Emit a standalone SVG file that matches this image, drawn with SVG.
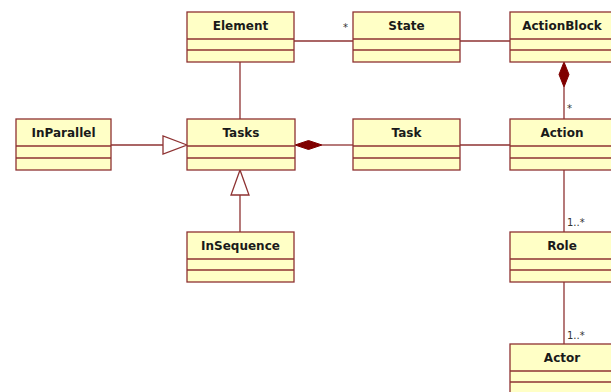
<svg xmlns="http://www.w3.org/2000/svg" width="611" height="392" viewBox="0 0 611 392">
  <defs>
    <style>
      .box { fill: #FFFFC6; stroke: #8E3232; stroke-width: 1.3; }
      .sep { stroke: #8E3232; stroke-width: 1.3; }
      .title { font-family: "DejaVu Sans", Verdana, sans-serif; font-size: 12px; font-weight: bold; fill: #1a1a1a; text-anchor: middle; }
      .edge { fill: none; stroke: #8E3232; stroke-width: 1.3; }
      .mult { font-family: "DejaVu Sans", Verdana, sans-serif; font-size: 10px; fill: #333333; }
      .gen { fill: #ffffff; stroke: #8E3232; stroke-width: 1.3; }
      .comp { fill: #800000; stroke: #800000; stroke-width: 1; }
    </style>
  </defs>

  <rect width="611" height="392" fill="#ffffff"/>

  <!-- associations, generalizations and compositions -->
  <g id="connectors">
    <!-- Element - State -->
    <line class="edge" x1="294" y1="41" x2="353" y2="41"/>
    <text class="mult" x="343" y="31">*</text>
    <!-- State - ActionBlock -->
    <line class="edge" x1="460" y1="41" x2="510" y2="41"/>
    <!-- Element - Tasks -->
    <line class="edge" x1="240" y1="62" x2="240" y2="119"/>
    <!-- InParallel generalizes to Tasks -->
    <line class="edge" x1="111" y1="145" x2="163" y2="145"/>
    <polygon class="gen" points="187,145 163,136 163,154"/>
    <!-- InSequence generalizes to Tasks -->
    <line class="edge" x1="240" y1="195" x2="240" y2="232"/>
    <polygon class="gen" points="240,170 231,195 249,195"/>
    <!-- Tasks composed of Task -->
    <line class="edge" x1="322" y1="145" x2="353" y2="145"/>
    <polygon class="comp" points="295,145 308.5,140.5 322,145 308.5,149.5"/>
    <!-- Task - Action -->
    <line class="edge" x1="460" y1="145" x2="510" y2="145"/>
    <!-- ActionBlock composed of Action -->
    <line class="edge" x1="564" y1="87" x2="564" y2="119"/>
    <polygon class="comp" points="564,62 569,74.5 564,87 559,74.5"/>
    <text class="mult" x="567" y="112">*</text>
    <!-- Action - Role -->
    <line class="edge" x1="564" y1="170" x2="564" y2="232"/>
    <text class="mult" x="567" y="226">1..*</text>
    <!-- Role - Actor -->
    <line class="edge" x1="564" y1="282" x2="564" y2="344"/>
    <text class="mult" x="567" y="339">1..*</text>
  </g>

  <g id="Element">
    <rect class="box" x="187" y="12" width="107" height="50"/>
    <line class="sep" x1="187" y1="39" x2="294" y2="39"/>
    <line class="sep" x1="187" y1="50" x2="294" y2="50"/>
    <text class="title" x="240.5" y="30">Element</text>
  </g>

  <g id="State">
    <rect class="box" x="353" y="12" width="107" height="50"/>
    <line class="sep" x1="353" y1="39" x2="460" y2="39"/>
    <line class="sep" x1="353" y1="50" x2="460" y2="50"/>
    <text class="title" x="406.5" y="30">State</text>
  </g>

  <g id="ActionBlock">
    <rect class="box" x="510" y="12" width="107" height="50"/>
    <line class="sep" x1="510" y1="39" x2="617" y2="39"/>
    <line class="sep" x1="510" y1="50" x2="617" y2="50"/>
    <text class="title" x="562" y="30">ActionBlock</text>
  </g>

  <g id="InParallel">
    <rect class="box" x="16" y="119" width="95" height="51"/>
    <line class="sep" x1="16" y1="146" x2="111" y2="146"/>
    <line class="sep" x1="16" y1="158" x2="111" y2="158"/>
    <text class="title" x="63.5" y="137">InParallel</text>
  </g>

  <g id="Tasks">
    <rect class="box" x="187" y="119" width="108" height="51"/>
    <line class="sep" x1="187" y1="146" x2="295" y2="146"/>
    <line class="sep" x1="187" y1="158" x2="295" y2="158"/>
    <text class="title" x="241" y="137">Tasks</text>
  </g>

  <g id="Task">
    <rect class="box" x="353" y="119" width="107" height="51"/>
    <line class="sep" x1="353" y1="146" x2="460" y2="146"/>
    <line class="sep" x1="353" y1="158" x2="460" y2="158"/>
    <text class="title" x="406.5" y="137">Task</text>
  </g>

  <g id="Action">
    <rect class="box" x="510" y="119" width="107" height="51"/>
    <line class="sep" x1="510" y1="146" x2="617" y2="146"/>
    <line class="sep" x1="510" y1="158" x2="617" y2="158"/>
    <text class="title" x="562" y="137">Action</text>
  </g>

  <g id="InSequence">
    <rect class="box" x="187" y="232" width="107" height="50"/>
    <line class="sep" x1="187" y1="259" x2="294" y2="259"/>
    <line class="sep" x1="187" y1="270" x2="294" y2="270"/>
    <text class="title" x="240.5" y="250">InSequence</text>
  </g>

  <g id="Role">
    <rect class="box" x="510" y="232" width="107" height="50"/>
    <line class="sep" x1="510" y1="259" x2="617" y2="259"/>
    <line class="sep" x1="510" y1="270" x2="617" y2="270"/>
    <text class="title" x="562" y="250">Role</text>
  </g>

  <g id="Actor">
    <rect class="box" x="510" y="344" width="107" height="50"/>
    <line class="sep" x1="510" y1="371" x2="617" y2="371"/>
    <line class="sep" x1="510" y1="382" x2="617" y2="382"/>
    <text class="title" x="562" y="362">Actor</text>
  </g>
</svg>
